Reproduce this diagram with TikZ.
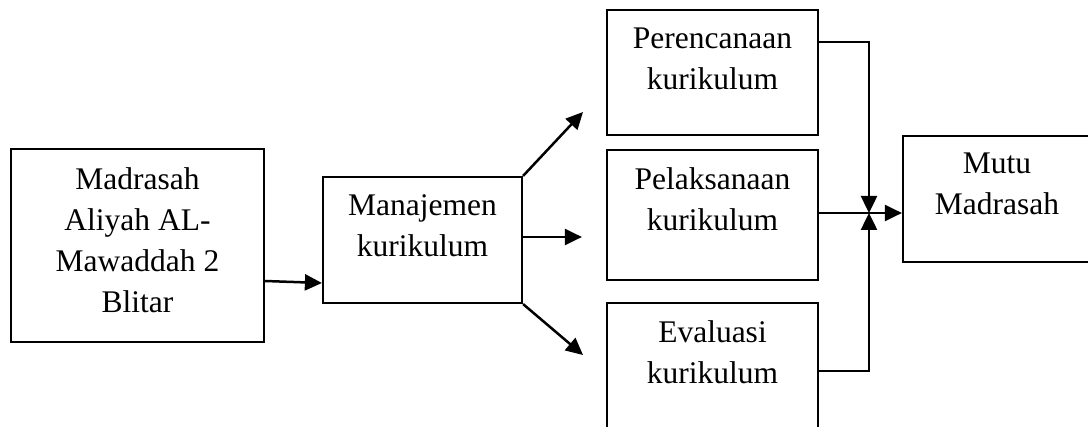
\documentclass[tikz,border=0pt]{standalone}
\usepackage{fontspec}
\setmainfont{Liberation Serif}
\usetikzlibrary{arrows.meta,positioning}
\tikzset{
  blok/.style={draw, line width=2.2pt, inner sep=0pt},
  isi/.style={inner sep=0pt, align=center, font=\fontsize{31.5}{41}\selectfont},
  garis/.style={line width=2.5pt},
  panah/.style={garis, -{Triangle[length=17pt,width=16pt]}}
}
\begin{document}
\begin{tikzpicture}[x=1pt, y=-1pt]
    \useasboundingbox (0,0) rectangle (1088,427);
    % kotak
    \node[blok, minimum width=253pt, minimum height=193pt] (madrasah) at (137.5,245.5) {};
    \node[blok, minimum width=199pt, minimum height=126pt] (manajemen) at (422.5,240) {};
    \node[blok, minimum width=211pt, minimum height=125pt] (perencanaan) at (712.5,72.5) {};
    \node[blok, minimum width=211pt, minimum height=130pt] (pelaksanaan) at (712.5,215) {};
    \node[blok, minimum width=211pt, minimum height=140pt] (evaluasi) at (712.5,373) {};
    \node[blok, minimum width=188pt, minimum height=126pt] (mutu) at (997,199) {};
    % teks
    \node[isi, below=19.5pt of madrasah.north] {Madrasah\\Aliyah AL-\\Mawaddah 2\\Blitar};
    \node[isi, below=18.5pt of manajemen.north] {Manajemen\\kurikulum};
    \node[isi, below=18.5pt of perencanaan.north] {Perencanaan\\kurikulum};
    \node[isi, below=18.5pt of pelaksanaan.north] {Pelaksanaan\\kurikulum};
    \node[isi, below=18.5pt of evaluasi.north] {Evaluasi\\kurikulum};
    \node[isi, below=18pt of mutu.north] {Mutu\\Madrasah};
    % titik bantu
    \coordinate (ujungatas) at (583,112);
    \coordinate (ujungbawah) at (583,355);
    \coordinate (temu) at (869,213);
    % panah
    \draw[panah] ([yshift=-35.5pt]madrasah.east) -- ([yshift=-43pt]manajemen.west);
    \draw[panah] (manajemen.north east) -- (ujungatas);
    \draw[panah] ([xshift=-2pt,yshift=3pt]manajemen.east) -- ([xshift=-24pt,yshift=-22pt]pelaksanaan.west);
    \draw[panah] (manajemen.south east) -- (ujungbawah);
    \draw[panah] ([yshift=30.5pt]perencanaan.east) -| (temu);
    \draw[panah] ([yshift=2pt]evaluasi.east) -| (temu);
    \draw[panah] ([yshift=2pt]pelaksanaan.east) -- ([yshift=-14pt]mutu.west);
\end{tikzpicture}
\end{document}
